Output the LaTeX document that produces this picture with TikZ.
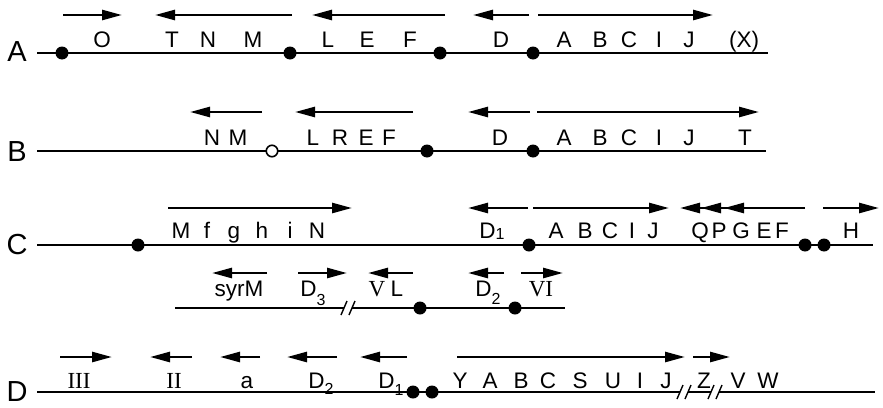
\documentclass[tikz,border=0pt]{standalone}
\usepackage{fontspec}
\setmainfont{Liberation Sans}
\newfontfamily\romfont{Liberation Serif}
\usetikzlibrary{arrows.meta}
\newcommand\lowsub[2]{\raisebox{-#1pt}{\fontsize{16}{17}\selectfont #2}}
\newcommand\rom[1]{{\romfont\fontsize{23}{25}\selectfont #1}}
\begin{document}
\begin{tikzpicture}[x=1pt,y=-1pt,
  backbone/.style={line width=1.8pt},
  gene/.style={line width=2.6pt,-{Triangle[length=20pt,width=10pt]}},
  site/.style={circle,fill=black,inner sep=0pt,minimum size=13pt},
  opensite/.style={circle,draw=black,fill=white,line width=1.6pt,inner sep=0pt,minimum size=11.5pt},
  lab/.style={anchor=base,inner sep=0pt,font=\fontsize{22.5}{25}\selectfont},
  rowlab/.style={inner sep=0pt,font=\fontsize{29}{32}\selectfont},
  brk/.style={line width=1.4pt}]
\useasboundingbox (0,0) rectangle (883,407);

% ---------------- Row A ----------------
\node[rowlab] (rA) at (17,52) {A};
\coordinate (As) at (37,53); \coordinate (Ae) at (768,53);
\draw[backbone] (As) -- (Ae);
\foreach \x [count=\i] in {62,290,440,533} \node[site] (A\i) at (\x,53) {};
\foreach \t/\x [count=\i] in {O/102,T/172,N/208,M/253,L/328,E/367,F/410,D/501,A/564,B/600,C/629,I/659,J/689,(X)/744}
  \node[lab] (la\i) at (\x,47) {\t};
\draw[gene] (63,15) -- (122,15);
\draw[gene] (292,15) -- (155,15);
\draw[gene] (445,15) -- (312,15);
\draw[gene] (529,15) -- (473,15);
\draw[gene] (538,15) -- (713,15);

% ---------------- Row B ----------------
\node[rowlab] (rB) at (17,152) {B};
\coordinate (Bs) at (37,151); \coordinate (Be) at (766,151);
\draw[backbone] (Bs) -- (Be);
\node[opensite] (B1) at (272,151) {};
\node[site] (B2) at (427,151) {};
\node[site] (B3) at (533,151) {};
\foreach \t/\x [count=\i] in {N/212,M/238,L/313,R/340,E/366,F/389,D/500,A/564,B/600,C/629,I/659,J/689,T/745}
  \node[lab] (lb\i) at (\x,145) {\t};
\draw[gene] (262,112) -- (190,112);
\draw[gene] (413,112) -- (295,112);
\draw[gene] (530,112) -- (468,112);
\draw[gene] (537,112) -- (759,112);

% ---------------- Row C ----------------
\node[rowlab] (rC) at (17,245) {C};
\coordinate (Cs) at (37,245); \coordinate (Ce) at (873,245);
\draw[backbone] (Cs) -- (Ce);
\foreach \x [count=\i] in {138,529,805,824} \node[site] (C\i) at (\x,245) {};
\foreach \t/\x [count=\i] in {M/181,f/207,g/234,h/262,i/290,N/317,{D\lowsub{1}{1}}/492,A/556,B/585,C/610,I/632,J/653,Q/700,P/719,G/741,E/764,F/782,H/851}
  \node[lab] (lc\i) at (\x,238) {\t};
\draw[gene] (168,208) -- (352,208);
\draw[gene] (528,208) -- (468,208);
\draw[gene] (533,208) -- (669,208);
\draw[gene] (805,208) -- (680,208);
\draw[gene] (727,208) -- (701,208);
\draw[gene] (750,208) -- (724,208);
\draw[gene] (823,208) -- (879,208);

% ---------------- Row C (second line) ----------------
\coordinate (Ks) at (175,308); \coordinate (Ke) at (565,308);
\coordinate (Kb) at (348,308);
\draw[backbone] (Ks) -- ([xshift=-4]Kb);
\draw[backbone] ([xshift=4]Kb) -- (Ke);
\draw[brk] ([shift={(-7,7)}]Kb) -- ([shift={(-1,-7)}]Kb);
\draw[brk] ([shift={(1,7)}]Kb) -- ([shift={(7,-7)}]Kb);
\node[site] (K1) at (420,308) {};
\node[site] (K2) at (515,308) {};
\foreach \t/\x [count=\i] in {syrM/239,{D\lowsub{9}{3}}/313,{\rom{V}}/377,L/397,{D\lowsub{8}{2}}/488,{\rom{VI}}/541}
  \node[lab] (lk\i) at (\x,296) {\t};
\draw[gene] (267,273) -- (212,273);
\draw[gene] (298,273) -- (347,273);
\draw[gene] (413,273) -- (368,273);
\draw[gene] (504,273) -- (468,273);
\draw[gene] (521,273) -- (563,273);

% ---------------- Row D ----------------
\node[rowlab] (rD) at (17,392) {D};
\coordinate (Ds) at (37,392); \coordinate (De) at (875,392);
\coordinate (Db1) at (684,392); \coordinate (Db2) at (715,392);
\draw[backbone] (Ds) -- ([xshift=-4]Db1);
\draw[backbone] ([xshift=4]Db1) -- ([xshift=-4]Db2);
\draw[backbone] ([xshift=4]Db2) -- (De);
\foreach \b in {Db1,Db2}{
  \draw[brk] ([shift={(-7,7)}]\b) -- ([shift={(-1,-7)}]\b);
  \draw[brk] ([shift={(1,7)}]\b) -- ([shift={(7,-7)}]\b);
}
\node[site] (D1) at (413,392) {};
\node[site] (D2) at (432,392) {};
\foreach \t/\x [count=\i] in {{\rom{III}}/79,{\rom{II}}/174,a/247,{D\lowsub{6}{2}}/321,{D\lowsub{7}{1}}/391,Y/460,A/490,B/521,C/548,S/580,U/613,I/640,J/666,Z/704,V/738,W/768}
  \node[lab] (ld\i) at (\x,388) {\t};
\draw[gene] (60,357) -- (112,357);
\draw[gene] (192,357) -- (150,357);
\draw[gene] (260,357) -- (220,357);
\draw[gene] (337,357) -- (287,357);
\draw[gene] (407,357) -- (360,357);
\draw[gene] (457,357) -- (685,357);
\draw[gene] (693,357) -- (730,357);
\end{tikzpicture}
\end{document}
